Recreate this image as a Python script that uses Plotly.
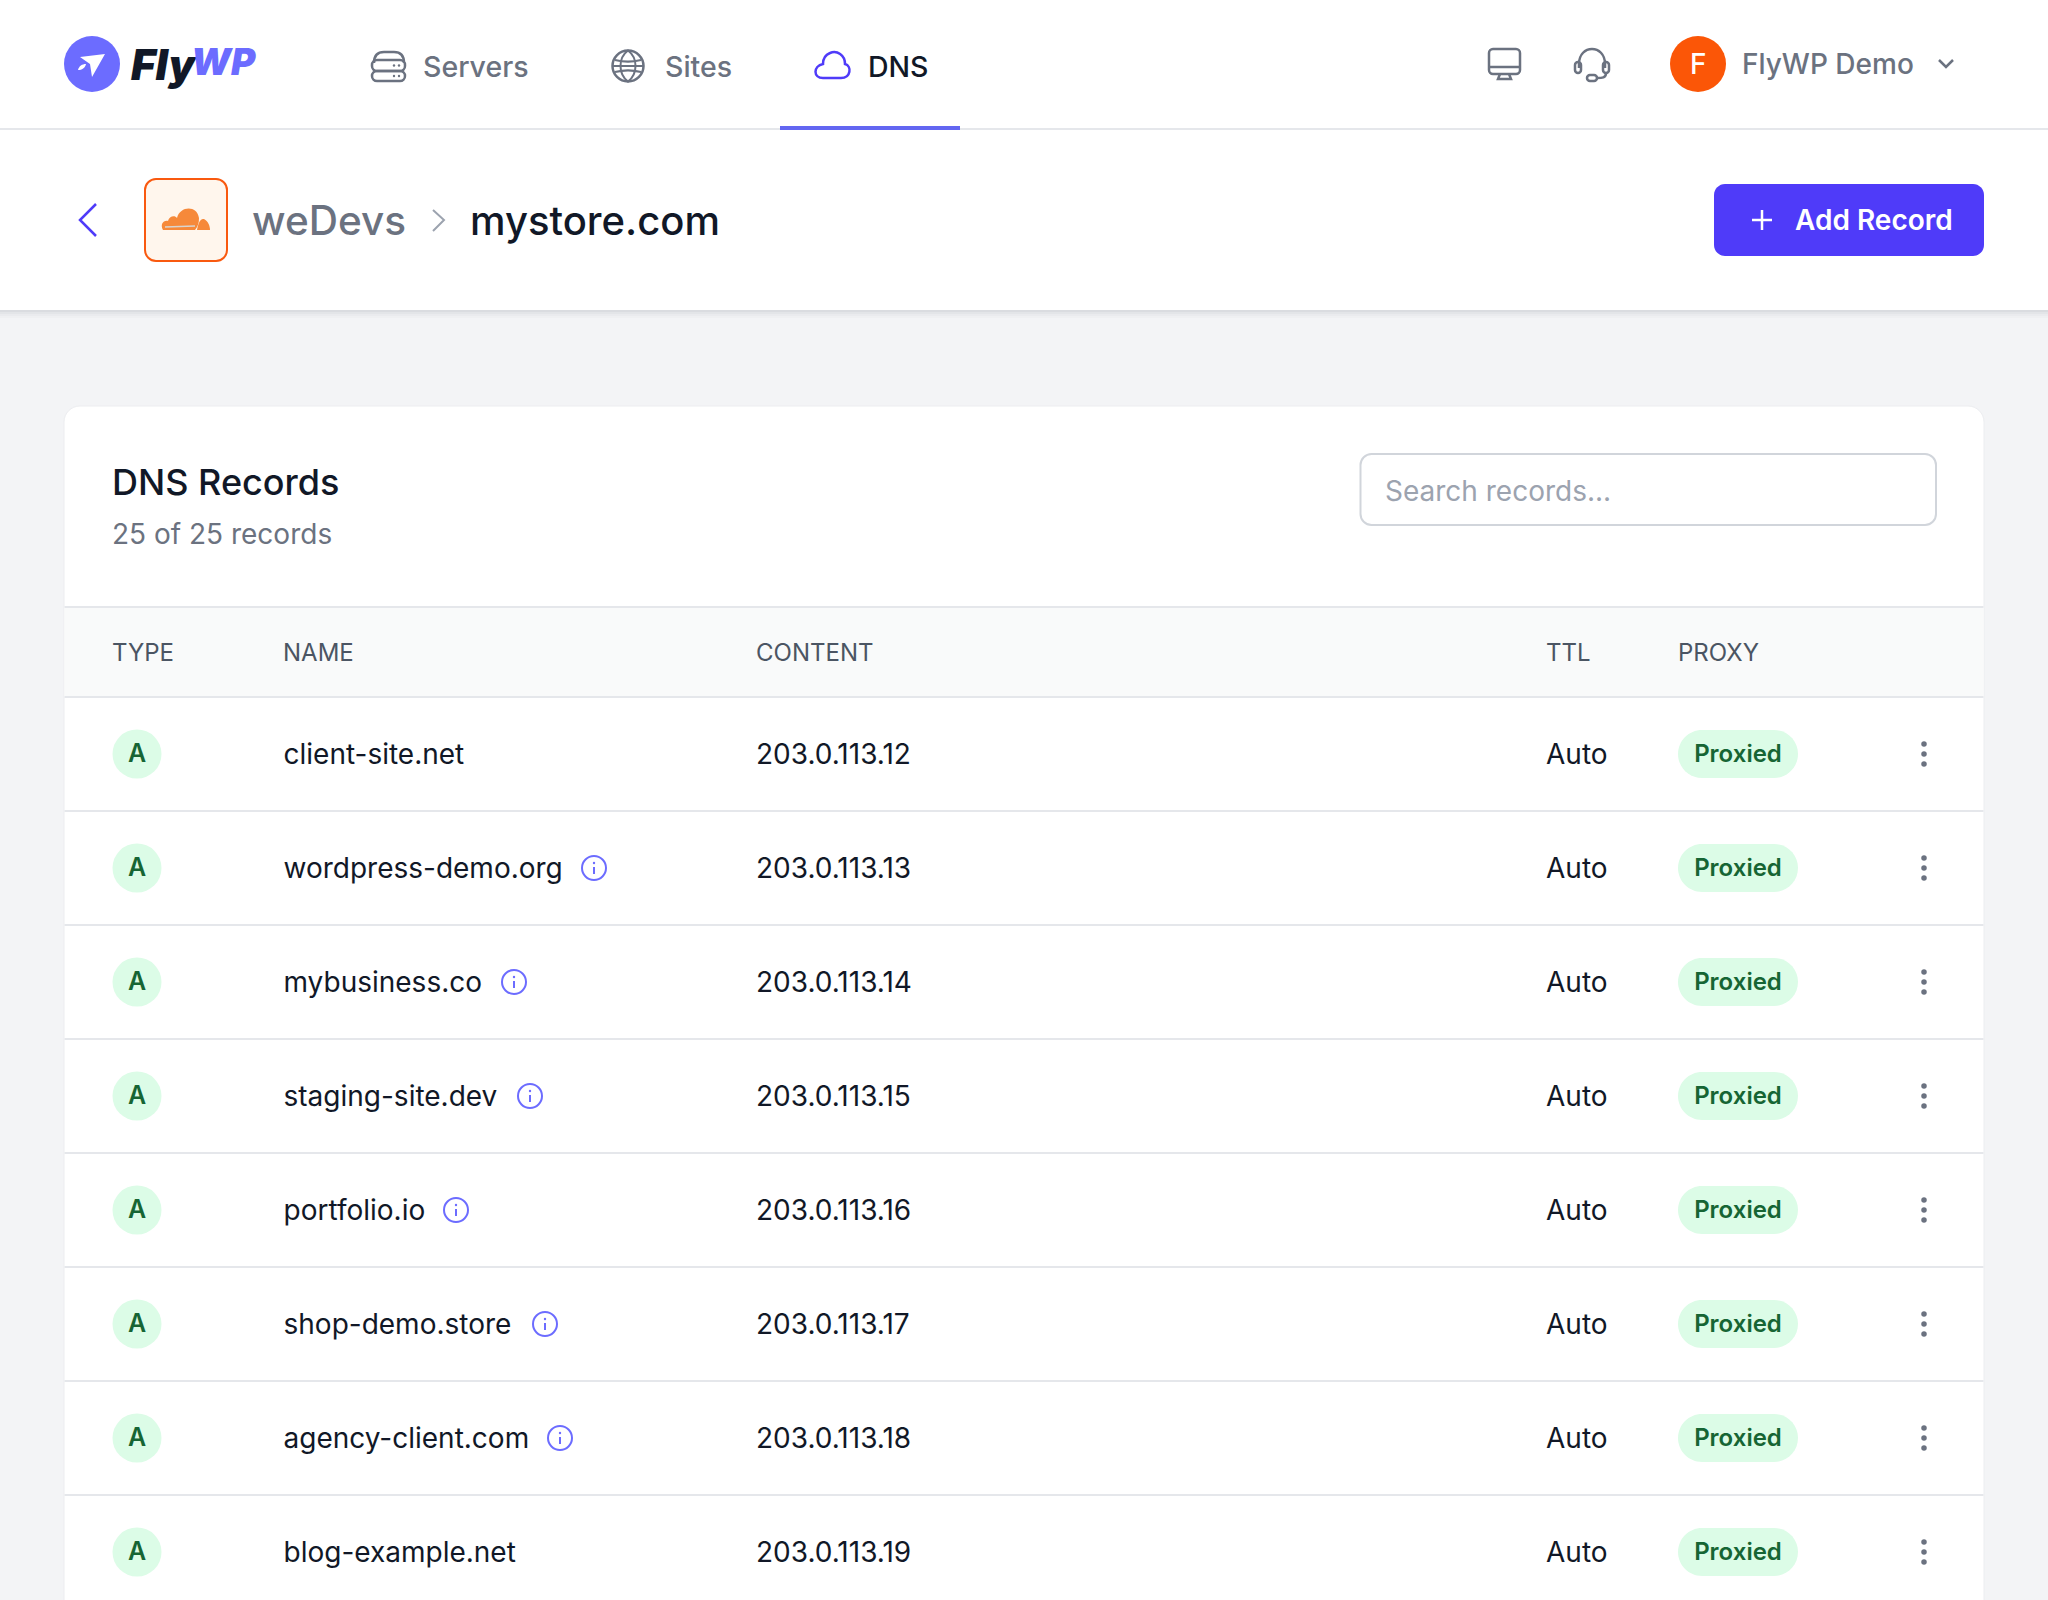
import plotly.graph_objects as go

# table data
record_types = ["A", "A", "A", "A", "A", "A", "A", "A"]
record_names = ["client-site.net", "wordpress-demo.org", "mybusiness.co", "staging-site.dev",
                "portfolio.io", "shop-demo.store", "agency-client.com", "blog-example.net"]
record_content = ["203.0.113.12", "203.0.113.13", "203.0.113.14", "203.0.113.15",
                  "203.0.113.16", "203.0.113.17", "203.0.113.18", "203.0.113.19"]
record_ttl = ["Auto"] * 8
record_proxy = ["Proxied"] * 8
has_info = [False, True, True, True, True, True, True, False]

columns = ["TYPE", "NAME", "CONTENT", "TTL", "PROXY"]
nav_items = ["Servers", "Sites", "DNS"]

# layout numbers, page pixels
ROW_TOP = 697
ROW_H = 114
COL_X = [112.5, 283.5, 756, 1546.5, 1678.5]
INFO_X = [None, 594, 514, 530, 456, 545, 560, None]
NAV_X = [423, 665, 868.5]

FONT = "Inter"
DARK = "#111827"
GREY = "#6B7280"
INDIGO = "#4F3BF9"
LOGO = "#6C6CFF"
LINE = "#E5E7EB"
GREEN_BG = "#DCFCE7"
GREEN = "#166534"

shapes = []
annotations = []


def round_rect(x0, y0, x1, y1, r):
    k = r * 0.45
    return (f"M {x0+r},{y0} L {x1-r},{y0} C {x1-k},{y0} {x1},{y0+k} {x1},{y0+r} "
            f"L {x1},{y1-r} C {x1},{y1-k} {x1-k},{y1} {x1-r},{y1} "
            f"L {x0+r},{y1} C {x0+k},{y1} {x0},{y1-k} {x0},{y1-r} "
            f"L {x0},{y0+r} C {x0},{y0+k} {x0+k},{y0} {x0+r},{y0} Z")


def add_path(path, fill="rgba(0,0,0,0)", line=None, width=2.5):
    shapes.append(dict(type="path", path=path, fillcolor=fill, layer="below",
                       line=dict(color=line or "rgba(0,0,0,0)", width=width if line else 0)))


def add_rect(x0, y0, x1, y1, fill):
    shapes.append(dict(type="rect", x0=x0, y0=y0, x1=x1, y1=y1, fillcolor=fill,
                       line=dict(width=0), layer="below"))


def add_circle(cx, cy, r, fill="rgba(0,0,0,0)", line=None, width=2.5):
    shapes.append(dict(type="circle", x0=cx-r, x1=cx+r, y0=cy-r, y1=cy+r, fillcolor=fill, layer="below",
                       line=dict(color=line or "rgba(0,0,0,0)", width=width if line else 0)))


def add_text(x, y, text, size, color, weight=400, anchor="left", style="normal", family=FONT):
    # annotations sit a little to the right of x, pull left aligned ones back
    if anchor == "left":
        x = x - 2.5
    annotations.append(dict(x=x, y=y, text=text, showarrow=False, xanchor=anchor, yanchor="middle",
                            font=dict(family=family, size=size, color=color, weight=weight, style=style)))


# top bars
add_rect(0, 0, 2048, 310, "#FFFFFF")
for i, c in enumerate(["#DADCE0", "#E3E5E8", "#EAEBEE", "#EFF0F2"]):
    add_rect(0, 310 + i * 2, 2048, 312 + i * 2, c)
add_rect(0, 128, 2048, 130, LINE)
add_rect(780, 126, 960, 130, "#6366F1")

# card
add_path(round_rect(64, 406, 1984, 1640, 16), "#FFFFFF", "#ECEDF0", 1)
add_rect(64.5, 607, 1983.5, 697, "#F9FAFA")
add_rect(64.5, 606, 1983.5, 608, LINE)
for i in range(8):
    add_rect(64.5, ROW_TOP + i * ROW_H - 1, 1983.5, ROW_TOP + i * ROW_H + 1, LINE)

# logo
add_circle(92, 64, 28, LOGO)
add_path("M 105,54 L 80,57 L 90,64 L 92,77 Z", "#FFFFFF")
add_path("M 78,70 C 79,66 82,64 86,64 C 85,68 82,70 78,70 Z", "#FFFFFF")
add_text(131, 64, "Fly", 42, "#111827", 900, style="italic")
add_text(191, 61, "WP", 37, LOGO, 900, style="italic")

# servers icon
add_path("M 374,63 C 374,55 378,52 384,52 L 394,52 C 400,52 404,55 404,63", line=GREY)
add_path(round_rect(372, 60, 405, 71, 5), line=GREY)
add_path(round_rect(372, 71, 405, 81, 5), line=GREY)
for dx in (394, 399):
    add_circle(dx, 65.5, 1.2, GREY)
    add_circle(dx, 76, 1.2, GREY)

# globe icon
add_circle(628, 66, 15.5, line=GREY)
add_path("M 628,50.5 C 618,58 618,74 628,81.5 C 638,74 638,58 628,50.5 Z", line=GREY, width=2)
add_path("M 615,60 C 623,62 633,62 641,60", line=GREY, width=2)
add_path("M 615,72 C 623,70 633,70 641,72", line=GREY, width=2)
add_path("M 612.5,66 L 643.5,66", line=GREY, width=2)

# cloud icon
add_path("M 823,78 L 841,78 C 851,78 852,66 845,64 C 845,55 837,50 830,53 "
         "C 825,55 823,60 823,64 C 813,66 813,78 823,78 Z", line=INDIGO, width=2.5)

for label, x in zip(nav_items, NAV_X):
    active = label == "DNS"
    add_text(x, 66.5, label, 28.5, DARK if active else GREY, 500)

# monitor icon
add_path(round_rect(1489, 49, 1520, 74, 4), line=GREY)
add_path("M 1489,67 L 1520,67", line=GREY)
add_path("M 1500,74 L 1498,79 L 1511,79 L 1509,74", line=GREY)

# headset icon
add_path("M 1579,68 L 1579,64 C 1579,44 1605,44 1605,64 L 1605,68", line=GREY)
add_path(round_rect(1575, 62, 1581, 73, 3), line=GREY)
add_path(round_rect(1603, 62, 1609, 73, 3), line=GREY)
add_path("M 1606,73 C 1606,78 1602,78 1597,78", line=GREY)
add_path(round_rect(1587, 75, 1597, 81, 3), line=GREY)

# user menu
add_circle(1698, 64, 28, "#FB5607")
add_text(1698, 64, "F", 28, "#FFFFFF", 500, "center")
add_text(1742.5, 64, "FlyWP Demo", 28, GREY, 500)
add_path("M 1939,60 L 1946,67 L 1953,60", line=GREY, width=2.5)

# breadcrumb
add_path("M 96,204 L 80,220 L 96,236", line=INDIGO, width=2.5)
add_path(round_rect(145, 179, 227, 261, 11), "#FFF6ED", "#F9590F", 2)
add_path("M 163,230 C 160,225 163,220 168,221 C 169,216 175,215 177,218 C 180,206 197,205 199,218 "
         "C 199,223 198,226 195,230 Z", "#F6893A")
add_path("M 197,230 C 198,224 200,218 204,219 C 208,221 210,226 210,230 Z", "#F6893A")
add_path("M 165,227 L 195,226", line="#D9D4CE", width=1.5)
add_text(252, 220, "weDevs", 40.5, GREY, 500)
add_path("M 433,210 L 444,220 L 433,231", line="#9CA3AF", width=2)
add_text(470, 220, "mystore.com", 40, DARK, 500)

# add record button
add_path(round_rect(1714, 184, 1984, 256, 11), INDIGO)
add_path("M 1752,220 L 1772,220 M 1762,210 L 1762,230", line="#FFFFFF", width=2.5)
add_text(1795, 220, "Add Record", 28, "#FFFFFF", 600)

# card header
add_text(112.5, 481.5, "DNS Records", 36, DARK, 500)
add_text(112.5, 534, "25 of 25 records", 28, GREY, 400)
add_path(round_rect(1360.5, 454, 1936, 525, 11), "#FFFFFF", "#D1D5DB", 2)
add_text(1385, 491, "Search records...", 28, "#9CA3AF", 400)

# column headings
for label, x in zip(columns, COL_X):
    add_text(x, 652, label, 24, "#4B5563", 400)

row_y = [ROW_TOP + ROW_H * (i + 0.5) for i in range(len(record_names))]
text_y = [y + 2.6 for y in row_y]

# pills and info icons
for i, y in enumerate(row_y):
    add_path(round_rect(1678, y - 24, 1798, y + 24, 24), GREEN_BG)
    if has_info[i]:
        add_circle(INFO_X[i], y, 12, line=LOGO, width=2)
        add_circle(INFO_X[i], y - 5, 1.2, LOGO)
        add_path(f"M {INFO_X[i]},{y-1} L {INFO_X[i]},{y+6}", line=LOGO, width=2)

fig = go.Figure()

fig.add_trace(go.Scatter(x=[137] * len(row_y), y=row_y, mode="markers",
                         marker=dict(size=49, color=GREEN_BG)))
fig.add_trace(go.Scatter(x=[137] * len(row_y), y=[y + 1.5 for y in row_y], mode="text", text=record_types,
                         textposition="middle center",
                         textfont=dict(family=FONT, size=25, color=GREEN, weight=600)))
fig.add_trace(go.Scatter(x=[283.5] * len(row_y), y=text_y, mode="text", text=record_names,
                         textposition="middle right", textfont=dict(family=FONT, size=28, color=DARK)))
fig.add_trace(go.Scatter(x=[756] * len(row_y), y=text_y, mode="text", text=record_content,
                         textposition="middle right", textfont=dict(family=FONT, size=28, color=DARK)))
fig.add_trace(go.Scatter(x=[1546] * len(row_y), y=text_y, mode="text", text=record_ttl,
                         textposition="middle right", textfont=dict(family=FONT, size=28, color=DARK)))
fig.add_trace(go.Scatter(x=[1738] * len(row_y), y=[y + 1.8 for y in row_y], mode="text", text=record_proxy,
                         textposition="middle center", textfont=dict(family=FONT, size=24, color=GREEN, weight=600)))
for off in (-10, 0, 10):
    fig.add_trace(go.Scatter(x=[1924] * len(row_y), y=[y + off for y in row_y], mode="markers",
                             marker=dict(size=5.5, color=GREY)))

fig.update_layout(
    width=2048, height=1600, margin=dict(l=0, r=0, t=0, b=0),
    paper_bgcolor="#F3F4F6", plot_bgcolor="rgba(0,0,0,0)", showlegend=False,
    xaxis=dict(range=[0, 2048], visible=False, fixedrange=True),
    yaxis=dict(range=[1600, 0], visible=False, fixedrange=True),
    shapes=shapes, annotations=annotations, hovermode=False,
)
fig.write_html("out.html", post_script="document.body.style.margin='0';", config=dict(displayModeBar=False))
